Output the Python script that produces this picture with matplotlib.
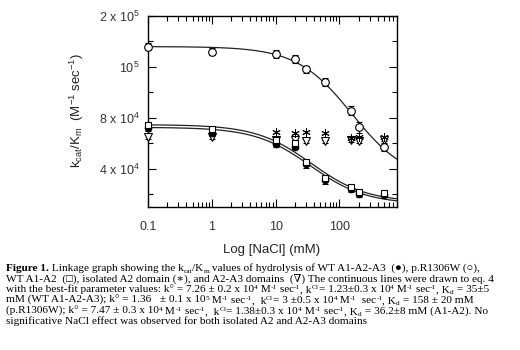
import re
import numpy as np
import matplotlib
matplotlib.use("Agg")
import matplotlib.pyplot as plt
from matplotlib.ticker import FixedLocator, NullFormatter, LogLocator

plt.rcParams["font.family"] = ["Liberation Sans", "DejaVu Sans"]
plt.rcParams["mathtext.fontset"] = "custom"
plt.rcParams["mathtext.rm"] = "Liberation Sans"
plt.rcParams["mathtext.it"] = "Liberation Sans:italic"
plt.rcParams["mathtext.bf"] = "Liberation Sans:bold"

# NaCl concentrations (mM)
nacl = [0.1, 1, 10, 20, 30, 60, 150, 200, 500]
nacl_a2 = [10, 20, 30, 60, 150, 200, 500]

# kcat/Km values (M^-1 sec^-1)
wt_a1a2a3 = [7.2e4, 6.8e4, 5.95e4, 5.75e4, 4.35e4, 3.1e4, 2.45e4, 2.05e4, 1.95e4]
wt_a1a2a3_err = [2.5e3, 2e3, 2.5e3, 2e3, 3e3, 3e3, 2.5e3, 3e3, 2e3]
r1306w = [1.36e5, 1.32e5, 1.30e5, 1.26e5, 1.18e5, 1.08e5, 8.55e4, 7.25e4, 5.7e4]
r1306w_err = [3e3, 3e3, 3e3, 3e3, 3e3, 3e3, 3.5e3, 4e3, 3e3]
wt_a1a2 = [7.45e4, 7.1e4, 6.27e4, 6.05e4, 4.5e4, 3.25e4, 2.55e4, 2.2e4, 2.1e4]
a2_only = [6.9e4, 6.8e4, 6.9e4, 6.8e4, 6.45e4, 6.5e4, 6.5e4]
a2a3 = [6.5e4, 6.5e4, 6.3e4, 6.3e4, 6.2e4, 6.15e4, 6.25e4, 6.2e4, 6.3e4]

# best-fit parameters from the caption: (k0, kCl, Kd)
fit_wt = (7.26e4, 1.23e4, 35.0)
fit_r1306w = (1.36e5, 3.0e4, 158.0)
fit_a1a2 = (7.47e4, 1.38e4, 36.2)

yticks = [4e4, 8e4, 1.2e5, 1.6e5]
yticklabels = ["4 x 10$^4$", "8 x 10$^4$", "10$^5$", "2 x 10$^5$"]
xticks = [0.1, 1, 10, 100]
xticklabels = ["0.1", "1", "10", "100"]

# caption markup: **bold**, ^{sup}, _{sub}
caption = [
    "**Figure 1.** Linkage graph showing the k_{cat}/K_{m} values of hydrolysis of WT A1-A2-A3  (●), p.R1306W (○),",
    "WT A1-A2  (□), isolated A2 domain (∗), and A2-A3 domains  (∇) The continuous lines were drawn to eq. 4",
    "with the best-fit parameter values: k° = 7.26 ± 0.2 x 10^{4} M^{-1} sec^{-1}, k^{Cl}= 1.23±0.3 x 10^{4} M^{-1} sec^{-1}, K_{d} = 35±5",
    "mM (WT A1-A2-A3); k° = 1.36   ± 0.1 x 10^{5} M^{-1} sec^{-1},  k^{Cl}= 3 ±0.5 x 10^{4} M^{-1}  sec^{-1}, K_{d} = 158 ± 20 mM",
    "(p.R1306W); k° = 7.47 ± 0.3 x 10^{4} M^{-1} sec^{-1},  k^{Cl}= 1.38±0.3 x 10^{4} M^{-1} sec^{-1}, K_{d} = 36.2±8 mM (A1-A2). No",
    "significative NaCl effect was observed for both isolated A2 and A2-A3 domains",
]


def linkage(x, k0, kcl, kd):
    # eq. 4: kobs = (k0 + kCl [NaCl]/Kd) / (1 + [NaCl]/Kd)
    r = x / kd
    return (k0 + kcl * r) / (1 + r)


W, H = 520, 350
fig = plt.figure(figsize=(W / 100, H / 100), dpi=100)
ax = fig.add_axes([148 / W, 1 - 207 / H, (397 - 148) / W, (207 - 16) / H])

xs = np.logspace(-1, np.log10(800), 300)
for p in (fit_wt, fit_r1306w, fit_a1a2):
    ax.plot(xs, linkage(xs, *p), color="#222222", lw=0.9, zorder=2)

eb = dict(capsize=2.5, elinewidth=0.8, capthick=0.8, ecolor="black", zorder=3, clip_on=False)
ax.errorbar(nacl, a2a3, yerr=1.5e3, fmt="v", ms=5.5, mfc="white", mec="black", mew=0.8, **eb)
ax.errorbar(nacl, wt_a1a2a3, yerr=wt_a1a2a3_err, fmt="o", ms=4.5, mfc="black", mec="black", **eb)
ax.errorbar(nacl, wt_a1a2, yerr=1.5e3, fmt="s", ms=5, mfc="white", mec="black", mew=0.8, **eb)
ax.errorbar(nacl, r1306w, yerr=r1306w_err, fmt="o", ms=5.5, mfc="white", mec="black", mew=0.8, **eb)
ax.plot(nacl_a2, a2_only, ls="none", marker=(6, 2, 0), ms=6, mec="black", mew=0.7, zorder=4)

ax.set_xscale("log")
ax.set_xlim(0.1, 800)
ax.set_ylim(1.0e4, 1.6e5)
ax.set_xticks(xticks)
ax.set_xticklabels(xticklabels)
ax.xaxis.set_minor_locator(LogLocator(base=10, subs=np.arange(2, 10)))
ax.xaxis.set_minor_formatter(NullFormatter())
ax.set_yticks(yticks)
ax.set_yticklabels(yticklabels)
ax.yaxis.set_minor_locator(FixedLocator([2e4, 6e4, 1e5, 1.4e5]))

ax.tick_params(which="both", direction="in", top=True, right=True, colors="black",
               labelcolor="#333333", labelsize=9, width=0.8)
ax.tick_params(which="major", length=6)
ax.tick_params(which="minor", length=3.5)
ax.tick_params(axis="x", pad=10)
ax.tick_params(axis="y", pad=6)
for s in ax.spines.values():
    s.set_linewidth(1.0)

fig.text(77 / W, 1 - 111 / H,
         r"k$_{\mathrm{cat}}$/K$_{\mathrm{m}}$  (M$^{-1}$ sec$^{-1}$)",
         rotation=90, ha="center", va="center", fontsize=9.5, color="#222222")
fig.text(272 / W, 1 - 250 / H, "Log [NaCl] (mM)", ha="center", va="center",
         fontsize=9.5, color="#222222")

# caption, drawn piece by piece so sub/superscripts stay small
renderer = fig.canvas.get_renderer()
serif = ["Liberation Serif", "DejaVu Serif"]
size = 8.1
token = re.compile(r"\*\*(.+?)\*\*|\^\{(.+?)\}|_\{(.+?)\}|([^*^_]+)")
base = 271
for i, line in enumerate(caption):
    x = 6.0
    y = base + 10.7 * i
    for m in token.finditer(line):
        bold, sup, sub, plain = m.groups()
        if bold:
            txt, fs, dy, wt = bold, size, 0, "bold"
        elif sup:
            txt, fs, dy, wt = sup, size * 0.66, -3.2, "normal"
        elif sub:
            txt, fs, dy, wt = sub, size * 0.66, 1.8, "normal"
        else:
            txt, fs, dy, wt = plain, size, 0, "normal"
        t = fig.text(x / W, 1 - (y + dy) / H, txt, ha="left", va="baseline",
                     fontsize=fs, family=serif, weight=wt, color="black")
        x += t.get_window_extent(renderer).width

fig.savefig("out.png", dpi=100)
